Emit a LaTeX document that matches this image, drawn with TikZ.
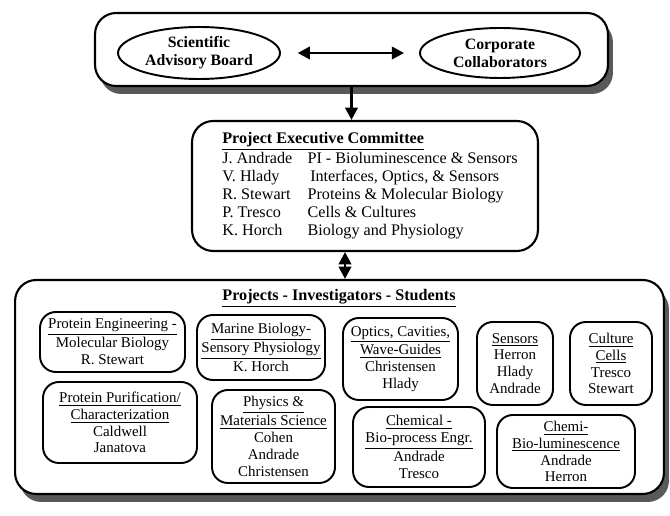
\documentclass[tikz,border=0pt]{standalone}
\usepackage{fontspec}
\setmainfont{Liberation Serif}
\usetikzlibrary{arrows.meta,shapes.geometric,shadows}
\tikzset{
  frame/.style={draw,line width=1.2pt,rounded corners=12pt,fill=white},
  shadowed/.style={drop shadow={shadow xshift=0.1cm,shadow yshift=-0.16cm,fill=black!65,opacity=1}},
  oval/.style={draw,ellipse,line width=1.1pt,align=center,inner sep=0pt,font=\fontsize{9}{10.2}\selectfont\bfseries},
  proj/.style={draw,line width=1.1pt,rounded corners=9pt,align=center,inner sep=1pt,font=\fontsize{8.5}{9.6}\selectfont},
  link/.style={line width=1.6pt,-{Triangle[length=7pt,width=7pt]}},
  twolink/.style={line width=1.6pt,{Triangle[length=7pt,width=7pt]}-{Triangle[length=7pt,width=7pt]}},
}
\begin{document}
\begin{tikzpicture}[x=0.02cm,y=-0.02cm]
\useasboundingbox (0,0) rectangle (670,516);
%\draw[step=10,gray,very thin] (0,0) grid (670,516); %background grid
\node[frame,shadowed,minimum width=10.26cm,minimum height=1.46cm] (board) at (351.5,49.5) {};
\node[oval,minimum width=3.24cm,minimum height=1.04cm] (sab) at (199,53) {Scientific\\Advisory Board};
\node[oval,minimum width=3.2cm,minimum height=1.0cm] (cc) at (500,53) {Corporate\\Collaborators};
\draw[twolink,shorten <=9.5pt,shorten >=8.5pt] (sab) -- (cc);

\node[frame,minimum width=6.92cm,minimum height=2.6cm,font=\fontsize{9.2}{10.3}\selectfont] (pec) at (365,186) {%
\hspace*{5.7pt}\begin{tabular}{@{}p{48.5pt}@{}l@{}}
\multicolumn{2}{@{}l}{\textbf{\underline{Project Executive Committee}}}\\
J. Andrade & PI - Bioluminescence \& Sensors\\
V. Hlady & \,Interfaces, Optics, \& Sensors\\
R. Stewart & Proteins \& Molecular Biology\\
P. Tresco & Cells \& Cultures\\
K. Horch & Biology and Physiology
\end{tabular}};
\draw[link] (board.south) -- (board.south |- pec.north);

\node[frame,shadowed,minimum width=12.98cm,minimum height=4.28cm] (projects) at (339.5,387) {};
\draw[twolink] ([xshift=-0.4cm]pec.south) -- ([xshift=-0.4cm]pec.south |- projects.north);
\node[font=\fontsize{9.2}{10.3}\selectfont\bfseries] (ptitle) at (339,298) {\underline{Projects - Investigators - Students}};

\node[proj,minimum width=2.9cm,minimum height=1.2cm] (pe) at (112.5,342) {\underline{Protein Engineering -}\\Molecular Biology\\R. Stewart};
\node[proj,minimum width=2.56cm,minimum height=1.3cm] (mb) at (261,347.5) {\underline{Marine Biology-}\\\underline{Sensory Physiology}\\K. Horch};
\node[proj,minimum width=2.3cm,minimum height=1.64cm] (oc) at (400.5,359) {\underline{Optics, Cavities,}\\\underline{Wave-Guides}\\Christensen\\Hlady};
\node[proj,minimum width=1.52cm,minimum height=1.66cm] (se) at (515,363.5) {\underline{Sensors}\\Herron\\Hlady\\Andrade};
\node[proj,minimum width=1.64cm,minimum height=1.66cm] (cu) at (611,363.5) {\underline{Culture}\\\underline{Cells}\\Tresco\\Stewart};
\node[proj,minimum width=3.08cm,minimum height=1.62cm] (pp) at (120,422.5) {\underline{Protein Purification/}\\\underline{Characterization}\\Caldwell\\Janatova};
\node[proj,minimum width=2.46cm,minimum height=1.86cm] (ph) at (273.5,436.5) {\underline{Physics \&}\\\underline{Materials Science}\\Cohen\\Andrade\\Christensen};
\node[proj,minimum width=2.64cm,minimum height=1.6cm] (ch) at (419,447) {\underline{Chemical -}\\\underline{Bio-process Engr.}\\Andrade\\Tresco};
\node[proj,minimum width=2.76cm,minimum height=1.46cm] (cb) at (566,451.5) {\underline{Chemi-}\\\underline{Bio-luminescence}\\Andrade\\Herron};
\end{tikzpicture}
\end{document}
